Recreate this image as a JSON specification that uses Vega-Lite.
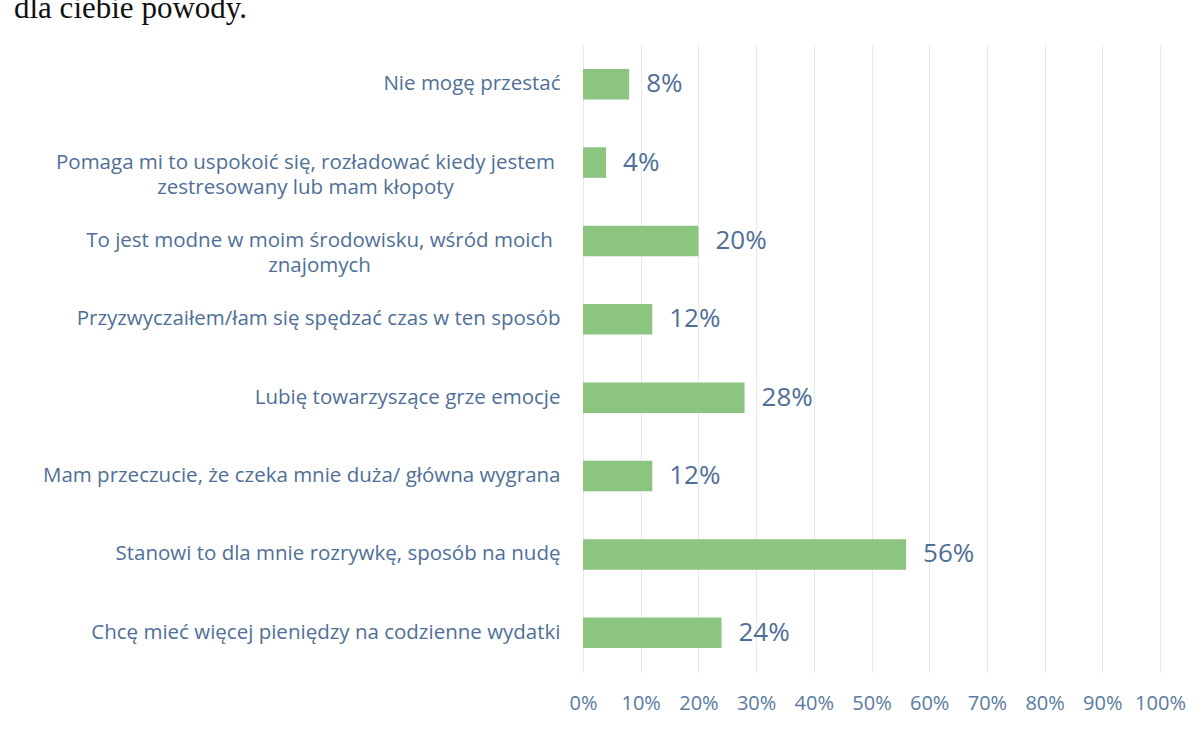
{
  "$schema": "https://vega.github.io/schema/vega-lite/v6.json",
  "autosize": "none",
  "padding": {"left": 583, "top": 45, "right": 43, "bottom": 57},
  "width": 577,
  "height": 627,
  "background": "white",
  "title": {
    "text": "dla ciebie powody.",
    "font": "Liberation Serif",
    "fontSize": 31,
    "fontWeight": "normal",
    "color": "#111111",
    "anchor": "start",
    "frame": "group",
    "baseline": "alphabetic",
    "dx": -569,
    "dy": 4,
    "offset": 0
  },
  "data": {
    "values": [
      {"powod": "Nie mogę przestać", "udzial": 0.08},
      {"powod": "Pomaga mi to uspokoić się, rozładować kiedy jestem|zestresowany lub mam kłopoty", "udzial": 0.04},
      {"powod": "To jest modne w moim środowisku, wśród moich|znajomych", "udzial": 0.20},
      {"powod": "Przyzwyczaiłem/łam się spędzać czas w ten sposób", "udzial": 0.12},
      {"powod": "Lubię towarzyszące grze emocje", "udzial": 0.28},
      {"powod": "Mam przeczucie, że czeka mnie duża/ główna wygrana", "udzial": 0.12},
      {"powod": "Stanowi to dla mnie rozrywkę, sposób na nudę", "udzial": 0.56},
      {"powod": "Chcę mieć więcej pieniędzy na codzienne wydatki", "udzial": 0.24}
    ]
  },
  "encoding": {
    "y": {
      "field": "powod",
      "type": "nominal",
      "sort": null,
      "title": null,
      "scale": {"paddingInner": 0.61, "paddingOuter": 0.305},
      "axis": {
        "domain": false,
        "ticks": false,
        "grid": false,
        "labelExpr": "split(datum.label, '|')",
        "labelFont": "Open Sans",
        "labelFontSize": 20.5,
        "labelColor": "#4f6f98",
        "labelLimit": 700,
        "labelLineHeight": 25,
        "labelBaseline": "middle",
        "labelAlign": {
          "condition": {"test": "indexof(datum.value, '|') >= 0", "value": "center"},
          "value": "right"
        },
        "labelPadding": {
          "condition": [
            {"test": "indexof(datum.value, 'Pomaga') == 0", "value": 278},
            {"test": "indexof(datum.value, 'To jest') == 0", "value": 264}
          ],
          "value": 23
        }
      }
    },
    "x": {
      "field": "udzial",
      "type": "quantitative",
      "scale": {"domain": [0, 1], "nice": false},
      "title": null,
      "axis": {
        "format": ".0%",
        "values": [0, 0.1, 0.2, 0.3, 0.4, 0.5, 0.6, 0.7, 0.8, 0.9, 1],
        "labelOverlap": false,
        "labelFlush": false,
        "domain": false,
        "ticks": false,
        "grid": true,
        "gridColor": "#e8e8e8",
        "gridWidth": 1,
        "labelFont": "Open Sans",
        "labelFontSize": 20,
        "labelColor": "#5a7aa0",
        "labelPadding": 21
      }
    }
  },
  "layer": [
    {"mark": {"type": "bar", "color": "#8cc57f"}},
    {
      "mark": {
        "type": "text",
        "align": "left",
        "baseline": "middle",
        "dx": 17,
        "font": "Open Sans",
        "fontSize": 26,
        "color": "#4f6f98"
      },
      "encoding": {"text": {"field": "udzial", "type": "quantitative", "format": ".0%"}}
    }
  ],
  "config": {"view": {"stroke": null}}
}
